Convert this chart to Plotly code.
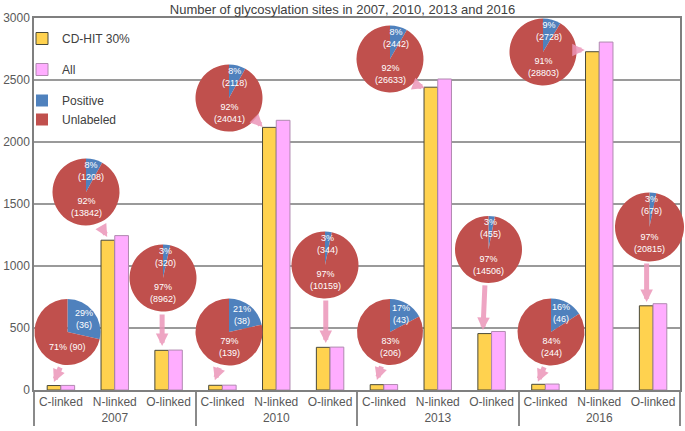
import math
import plotly.graph_objects as go

# ---------------- data ----------------
years = ["2007", "2010", "2013", "2016"]
site_types = ["C-linked", "N-linked", "O-linked"]
cdhit30 = [36, 1208, 320, 38, 2118, 344, 43, 2442, 455, 46, 2728, 679]
all_sites = [37, 1245, 322, 39, 2175, 346, 44, 2508, 472, 48, 2806, 696]
positive = [36, 1208, 320, 38, 2118, 344, 43, 2442, 455, 46, 2728, 679]
unlabeled = [90, 13842, 8962, 139, 24041, 10159, 206, 26633, 14506, 244, 28803, 20815]
y_ticks = [0, 500, 1000, 1500, 2000, 2500, 3000]

# ---------------- layout helpers (pixel geometry) ----------------
W, H = 685, 431
PL, PR, PT, PB = 34, 680, 18, 390          # plot area in pixels
# pie centres (px) and diameters
pie_pos = [(67.5, 332, 66), (86, 192, 67), (163, 278, 67),
           (229, 332, 67), (229, 98, 67), (325, 265, 67),
           (390, 332, 66), (390, 59, 67), (488.5, 249.5, 67),
           (551, 332, 67), (543, 52, 67), (649.5, 227, 69)]
# arrow heads relative to the yellow bar (category units, data units) and tail offsets (px)
arrow_geo = [(-0.13, 29, 7, -16), (-0.14, 26, -7, -12), (-0.12, 35, 0, -33),
             (-0.14, 40, 5, -14), (-0.25, 3, -9, -9), (-0.08, 35, 0, -44),
             (-0.13, 38, 5, -15), (-0.24, -7, -8, -3), (-0.16, 29, 2, -46),
             (-0.14, 20, 7, -16), (-0.27, 14, -8, 0), (-0.12, 31, 0, -40)]

xcat = [[y for y in years for _ in site_types], [t for _ in years for t in site_types]]

font_family = "Liberation Sans, Arial, sans-serif"
BLUE, RED = "#4F81BD", "#C0504D"

fig = go.Figure()
fig.add_trace(go.Bar(x=xcat, y=cdhit30, name="CD-HIT 30%", legendgroup="a",
                     marker=dict(color="#FFD24F", line=dict(color="#4a4a3a", width=1))))
fig.add_trace(go.Bar(x=xcat, y=all_sites, name="All", legendgroup="b",
                     marker=dict(color="#FFADFF", line=dict(color="#B08AB0", width=1))))

annotations = []
for i, (cx, cy, d) in enumerate(pie_pos):
    r = d / 2
    fig.add_trace(go.Pie(
        labels=["Positive", "Unlabeled"], values=[positive[i], unlabeled[i]],
        domain=dict(x=[(cx - r) / W, (cx + r) / W], y=[1 - (cy + r) / H, 1 - (cy - r) / H]),
        sort=False, direction="clockwise", rotation=0,
        marker=dict(colors=[BLUE, RED], line=dict(color="rgba(0,0,0,0)", width=0)),
        textinfo="none", hoverinfo="label+value+percent",
        legendgroup="c", showlegend=(i == 0),
    ))
    total = positive[i] + unlabeled[i]
    p = positive[i] / total
    pct_pos = round(100 * p)
    pct_unl = round(100 * (1 - p))
    theta = p * math.pi
    bx = cx + 0.64 * r * math.sin(theta)
    by = cy - 0.64 * r * math.cos(theta)
    annotations.append(dict(x=bx / W, y=1 - by / H, xref="paper", yref="paper",
                            xanchor="center", yanchor="middle",
                            text=f"{pct_pos}%<br>({positive[i]})", showarrow=False,
                            font=dict(size=9, color="white", family=font_family)))
    sep = " " if i == 0 else "<br>"
    annotations.append(dict(x=cx / W, y=1 - (cy + 0.45 * r) / H, xref="paper", yref="paper",
                            xanchor="center", yanchor="middle",
                            text=f"{pct_unl}%{sep}({unlabeled[i]})", showarrow=False,
                            font=dict(size=9, color="white", family=font_family)))

for i, (hx, hy, ax, ay) in enumerate(arrow_geo):
    annotations.append(dict(
        x=i + hx, y=cdhit30[i] + hy, xref="x", yref="y", ax=ax, ay=ay,
        text="", showarrow=True, arrowhead=2, arrowsize=0.5, arrowwidth=5,
        arrowcolor="rgba(236,150,185,0.85)", standoff=0, startstandoff=0,
    ))

fig.update_layout(
    width=W, height=H, margin=dict(l=0, r=0, t=0, b=0),
    paper_bgcolor="white", plot_bgcolor="white",
    font=dict(family=font_family, size=12, color="#595959"),
    title=dict(text="Number of glycosylation sites in 2007, 2010, 2013 and 2016",
               x=0.5, xanchor="center", y=1 - 9 / H, yanchor="middle", yref="container",
               font=dict(size=13, color="#404040", family=font_family)),
    barmode="group", bargap=0.49, bargroupgap=0,
    xaxis=dict(type="multicategory", domain=[PL / W, PR / W], automargin=False,
               showline=True, linecolor="#7f7f7f", linewidth=1.5, mirror=True,
               showdividers=True, dividercolor="#8a8a8a", dividerwidth=1.5,
               ticks="", tickfont=dict(size=12, color="#595959")),
    yaxis=dict(domain=[1 - PB / H, 1 - PT / H], range=[0, 3000], tickvals=y_ticks,
               automargin=False, showgrid=True, gridcolor="#9a9a9a", gridwidth=1.5,
               showline=True, linecolor="#7f7f7f", linewidth=1.5, mirror=True,
               zeroline=False, ticks="", tickfont=dict(size=12, color="#595959")),
    legend=dict(x=22 / W, y=1 - 24 / H, xanchor="left", yanchor="top",
                bgcolor="rgba(0,0,0,0)", tracegroupgap=12, itemwidth=30,
                font=dict(size=12, color="#404040", family=font_family)),
    annotations=annotations,
)

fig.write_html("out.html", post_script="document.body.style.margin='0';",
               config={"displayModeBar": False})
